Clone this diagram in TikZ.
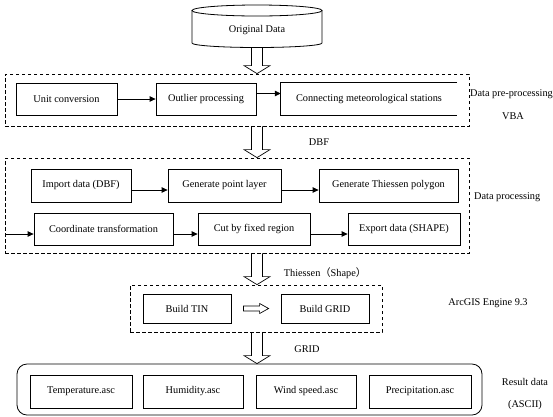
\documentclass[tikz,border=0pt]{standalone}
\usepackage{fontspec}
\setmainfont{Liberation Serif}
\newfontfamily\cjk{Noto Sans CJK SC}
\usepackage{tikz}
\usetikzlibrary{%
	calc,%
	arrows.meta%
}

\tikzset{
	procbox/.style={draw,line width=0.8pt,minimum height=32pt,inner sep=0pt},
	dashbox/.style={draw,line width=0.8pt,dash pattern=on 3.5pt off 2.5pt,inner sep=0pt},
	flow/.style={line width=0.8pt,-{Triangle[length=6pt,width=5.5pt]}},
	fat/.style={line width=0.7pt}
}

% hollow block arrows
\newcommand{\hollowdown}[2]{\draw [fat] let \p1=(#1), \p2=(#2) in (\x1-5.5pt,\y1) -- (\x1-5.5pt,\y2+8pt) -- (\x1-13pt,\y2+8pt) -- (\x1,\y2) -- (\x1+13pt,\y2+8pt) -- (\x1+5.5pt,\y2+8pt) -- (\x1+5.5pt,\y1);}
\newcommand{\hollowright}[2]{\draw [fat] let \p1=(#1), \p2=(#2) in (\x1,\y1+2.5pt) -- (\x2-9pt,\y1+2.5pt) -- (\x2-9pt,\y1+5pt) -- (\x2,\y1) -- (\x2-9pt,\y1-5pt) -- (\x2-9pt,\y1-2.5pt) -- (\x1,\y1-2.5pt) -- cycle;}

\begin{document}
\begin{tikzpicture}[x=1pt,y=-1pt,font=\fontsize{10.3}{12}\selectfont]
\useasboundingbox (0,0) rectangle (553,416);

% original data
\node (orig) at (257,30) {Original Data};
\draw [line width=0.8pt] (257,10.5) ellipse [x radius=65, y radius=5.5];
\draw [line width=0.8pt] (192,10.5) -- (192,43) arc [start angle=180, end angle=0, x radius=65, y radius=4.5] -- (322,10.5);
\coordinate (origbot) at (257,47.5);

% pre-processing
\node [dashbox,minimum width=464pt,minimum height=52pt] (pre) at (237,100) {};
\node [procbox,minimum width=101pt] (unit) at (66.5,99) {Unit conversion};
\node [procbox,minimum width=100pt] (outl) at (206,99) {Outlier processing};
\node [minimum width=176pt,minimum height=32pt,inner sep=0pt] (conn) at (369,99) {Connecting meteorological stations};
\draw [line width=0.8pt] (conn.north east) -- (conn.north west) -- (conn.south west) -- (conn.south east);
\node [anchor=west,inner sep=0pt] (prelbl) at (470,94) {Data pre-processing};
\node (vba) at (513,116) {VBA};
\draw [flow] (unit) -- (outl);
\draw [flow] ([yshift=5.5pt]outl.east) -- ([yshift=5.5pt]conn.west);

% processing
\node (dbf) at (319,142) {DBF};
\node [dashbox,minimum width=464pt,minimum height=95pt] (proc) at (237,205.5) {};
\node [procbox,minimum width=100pt,minimum height=33pt] (imp) at (81,185.5) {Import data (DBF)};
\node [procbox,minimum width=113pt,minimum height=33pt] (gpl) at (224.5,185.5) {Generate point layer};
\node [procbox,minimum width=139pt,minimum height=33pt] (thp) at (388.5,185.5) {Generate Thiessen polygon};
\node [anchor=west,inner sep=0pt] (proclbl) at (474,197) {Data processing};
\node [procbox,minimum width=139pt] (coord) at (103.5,229) {Coordinate transformation};
\node [procbox,minimum width=112pt] (cut) at (254,229) {Cut by fixed region};
\node [procbox,minimum width=112pt] (expo) at (404,229) {Export data (SHAPE)};
\coordinate (procin) at (5,234);
\draw [flow] ([yshift=-4.5pt]imp.east) -- ([yshift=-4.5pt]gpl.west);
\draw [flow] ([yshift=-4.5pt]gpl.east) -- ([yshift=-4.5pt]thp.west);
\draw [flow] (procin) -- (procin -| coord.west);
\draw [flow] ([yshift=-5pt]coord.east) -- ([yshift=-5pt]cut.west);
\draw [flow] ([yshift=-5pt]cut.east) -- ([yshift=-5pt]expo.west);

% arcgis
\node (thlbl) at (325,273) {Thiessen{\cjk （}Shape{\cjk ）}};
\node [dashbox,minimum width=252pt,minimum height=47pt] (gis) at (256,308.5) {};
\node [procbox,minimum width=88pt,minimum height=29pt] (tin) at (187,308.5) {Build TIN};
\node [procbox,minimum width=88pt,minimum height=29pt] (grid) at (325,308.5) {Build GRID};
\node (gislbl) at (488,303) {ArcGIS Engine 9.3};
\node (gridlbl) at (307,349) {GRID};
\hollowright{[xshift=12pt]tin.east}{[xshift=-12pt]grid.west}

% results
\node [draw,line width=0.8pt,rounded corners=10pt,minimum width=465pt,minimum height=51pt] (res) at (249.5,389.5) {};
\node [procbox,minimum width=102pt,minimum height=33pt] (temp) at (81,391.5) {Temperature.asc};
\node [procbox,minimum width=100pt,minimum height=33pt] (hum) at (193,391.5) {Humidity.asc};
\node [procbox,minimum width=100pt,minimum height=33pt] (wind) at (306,391.5) {Wind speed.asc};
\node [procbox,minimum width=102pt,minimum height=33pt] (prec) at (420,391.5) {Precipitation.asc};
\node (reslbl) at (525,382) {Result data};
\node (ascii) at (525,405) {(ASCII)};

% block arrows between stages
\hollowdown{origbot}{origbot |- pre.north}
\hollowdown{origbot |- pre.south}{origbot |- proc.north}
\hollowdown{origbot |- proc.south}{origbot |- gis.north}
\hollowdown{origbot |- gis.south}{origbot |- res.north}
\end{tikzpicture}
\end{document}
